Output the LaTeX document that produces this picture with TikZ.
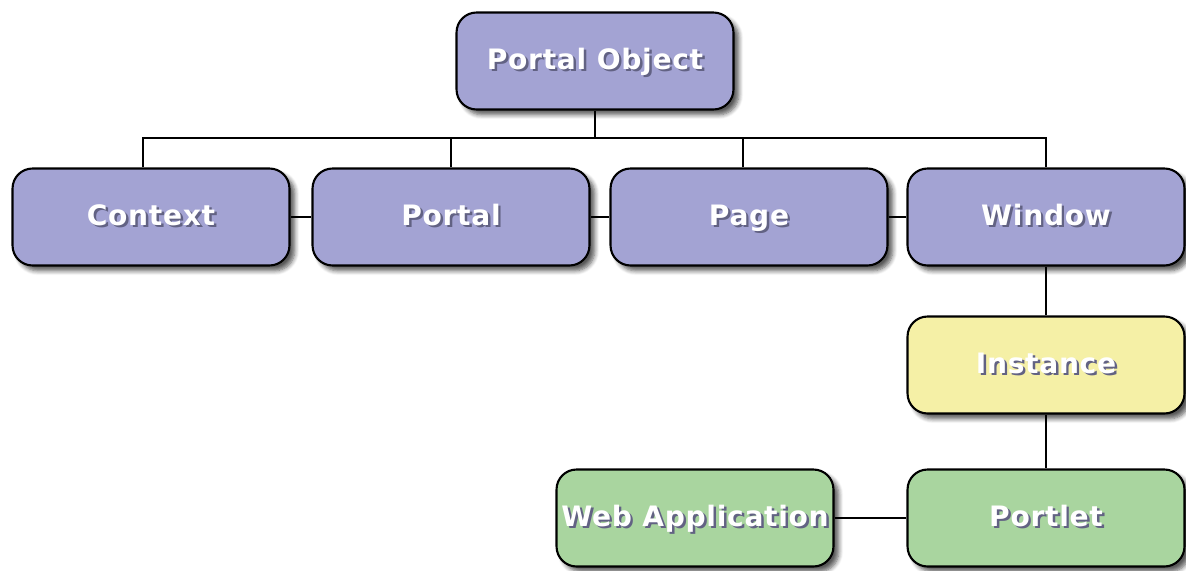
\documentclass[tikz,border=0pt]{standalone}
\usepackage{fontspec}
\setmainfont{DejaVu Sans}
\usepackage{tikz}
\usetikzlibrary{shadows.blur}

\definecolor{objblue}{HTML}{A3A3D3}
\definecolor{objyellow}{HTML}{F5F0A6}
\definecolor{objgreen}{HTML}{A9D59F}
\definecolor{txtshadow}{HTML}{2E2E5A}

% white text with a dark shadow
\newcommand{\shtxt}[1]{\rlap{\hspace{1.4pt}\raisebox{-1.4pt}{\textcolor{txtshadow!75}{#1}}}\textcolor{white}{#1}}

\tikzset{
  objbox/.style={draw, line width=1.2pt, rounded corners=0.4cm, fill=objblue,
    minimum width=5.54cm, minimum height=1.94cm, inner xsep=1pt, text height=2.2ex, text depth=0.5ex,
    font=\fontsize{16}{18}\selectfont\bfseries\addfontfeatures{LetterSpace=2.5},
    blur shadow={shadow xshift=3pt, shadow yshift=-3pt, shadow blur steps=6, shadow blur radius=2.5pt, shadow opacity=65}},
  link/.style={line width=0.9pt}
}

\begin{document}
\begin{tikzpicture}[x=0.02cm, y=-0.02cm]

\useasboundingbox (0,0) rectangle (1186,571);

% top node

\node[objbox] (po) at (595, 61) {\shtxt{Portal Object}};

% second row

\node[objbox] (ctx) at (151, 217) {\shtxt{Context}};
\node[objbox] (portal) at (451, 217) {\shtxt{Portal}};
\node[objbox] (page) at (749, 217) {\shtxt{Page}};
\node[objbox] (win) at (1046, 217) {\shtxt{Window}};

% lower nodes

\node[objbox, fill=objyellow] (inst) at (1046, 365) {\shtxt{Instance}};
\node[objbox, fill=objgreen] (portlet) at (1046, 518) {\shtxt{Portlet}};
\node[objbox, fill=objgreen] (webapp) at (695, 518) {\shtxt{Web Application}};

% tree lines
\coordinate (bus) at (0, 138);
\draw [link] (po) -- (po |- bus);
\draw [link] ([xshift=-8*0.02cm]ctx.north) -- ([xshift=-8*0.02cm]ctx.north |- bus) -- (win |- bus) -- (win);
\draw [link] (portal) -- (portal |- bus);
\draw [link] ([xshift=-6*0.02cm]page.north) -- ([xshift=-6*0.02cm]page.north |- bus);

% side lines
\draw [link] (ctx) -- (portal);
\draw [link] (portal) -- (page);
\draw [link] (page) -- (win);
\draw [link] (win) -- (inst);
\draw [link] (inst) -- (portlet);
\draw [link] (webapp) -- (portlet);

\end{tikzpicture}
\end{document}
